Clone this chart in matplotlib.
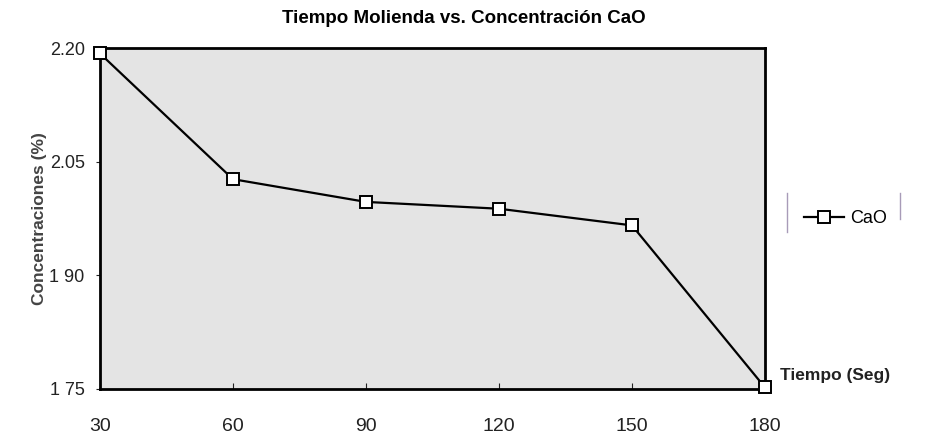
import matplotlib.pyplot as plt
from matplotlib.lines import Line2D

plt.rcParams['font.family'] = ['Liberation Sans', 'DejaVu Sans']

# Datos
tiempo = [30, 60, 90, 120, 150, 180]
cao = [2.193, 2.027, 1.997, 1.988, 1.966, 1.752]
yticks = [1.75, 1.90, 2.05, 2.20]
ytick_labels = ['1 75', '1 90', '2.05', '2.20']

fig = plt.figure(figsize=(9.37, 4.42), dpi=100)
ax = fig.add_axes([0.1067, 0.12, 0.7097, 0.771])
ax.set_facecolor('#e4e4e4')

ax.plot(tiempo, cao, color='black', linewidth=1.6, marker='s', markersize=9,
        markerfacecolor='white', markeredgecolor='black', markeredgewidth=1.4,
        label='CaO', clip_on=False, zorder=5)

ax.set_xlim(30, 180)
ax.set_ylim(1.75, 2.20)
ax.set_xticks(tiempo)
ax.set_yticks(yticks)
ax.set_yticklabels(ytick_labels)
ax.tick_params(axis='x', direction='in', length=4, pad=27, labelsize=14, colors='#222222')
ax.tick_params(axis='y', length=3, pad=8, labelsize=13, colors='#222222')
for s in ax.spines.values():
    s.set_linewidth(2)
    s.set_color('black')
for lbl in ax.get_xticklabels():
    lbl.set_verticalalignment('center')

fig.text(0.495, 0.958, 'Tiempo Molienda vs. Concentración CaO', fontsize=13.5,
         fontweight='bold', ha='center', va='center')
ax.set_ylabel('Concentraciones (%)', fontsize=12.5, fontweight='bold',
              color='#444444', labelpad=2)
fig.text(0.832, 0.14, 'Tiempo (Seg)', fontsize=12.5, fontweight='bold',
         color='#222222')

leg = ax.legend(loc='center left', bbox_to_anchor=(1.035, 0.50), frameon=False,
                fontsize=13, handlelength=2.2, handletextpad=0.3)
# bordes laterales de la leyenda
fig.add_artist(Line2D([0.840, 0.840], [0.475, 0.563], color='#a89bb8', linewidth=1))
fig.add_artist(Line2D([0.961, 0.961], [0.505, 0.563], color='#a89bb8', linewidth=1))

fig.savefig('out.png', dpi=100)
